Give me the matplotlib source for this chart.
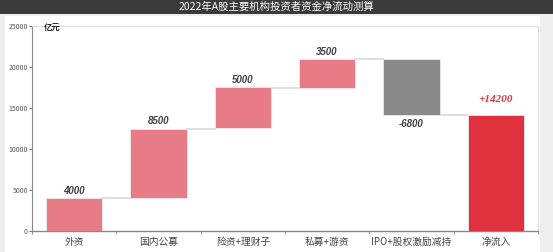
import numpy as np
import matplotlib.pyplot as plt
from matplotlib.patches import Rectangle

plt.rcParams['font.family'] = ['Noto Sans CJK SC', 'DejaVu Sans']

# -- data --
title = '2022年A股主要机构投资者资金净流动测算'
categories = ['外资', '国内公募', '险资+理财子', '私募+游资', 'IPO+股权激励减持', '净流入']
changes = [4000, 8500, 5000, 3500, -6800]
net_total = 14200
value_labels = ['4000', '8500', '5000', '3500', '-6800', '+14200']

pink = '#e87c86'
grey_bar = '#8a8a8a'
red = '#e0313e'

fig = plt.figure(figsize=(5.53, 2.52), dpi=100)
fig.patch.set_facecolor('#eeeeee')

# white panel and dark title strip
fig.add_artist(Rectangle((5/553, 0), 535/553, 1 - 16/252, transform=fig.transFigure,
                         facecolor='white', edgecolor='none', zorder=0))
fig.add_artist(Rectangle((0, 1 - 14/252), 1, 14/252, transform=fig.transFigure,
                         facecolor='#3a3a3a', edgecolor='none', zorder=0))
fig.text(0.5, 1 - 7/252, title, color='white', fontsize=7.5,
         ha='center', va='center')

ax = fig.add_axes([32/553, 1 - 231/252, 506/553, 205/252])
ax.set_facecolor('white')

x = np.arange(len(categories))
w = 0.67
cum = np.cumsum(changes)
starts = np.concatenate([[0], cum[:-1]])

for i, (s, c) in enumerate(zip(starts, changes)):
    col = pink if c > 0 else grey_bar
    ax.bar(x[i], c, bottom=s, width=w, color=col, edgecolor='#eaeaea', linewidth=0.6, zorder=3)
ax.bar(x[-1], net_total, width=w, color=red, edgecolor='#eaeaea', linewidth=0.6, zorder=3)

# connectors
levels = list(cum)
for i in range(len(categories) - 1):
    ax.plot([x[i] + w/2, x[i+1] - w/2], [levels[i], levels[i]],
            color='#d9d9d9', lw=1.2, zorder=2)

# value labels
num_font = ['Liberation Sans']
for i, c in enumerate(changes):
    if c > 0:
        ax.text(x[i], cum[i] + 250, value_labels[i], ha='center', va='bottom',
                fontsize=7, fontweight='bold', style='italic', color='#404040',
                family=num_font)
    else:
        ax.text(x[i], cum[i] - 500, value_labels[i], ha='center', va='top',
                fontsize=7, fontweight='bold', style='italic', color='#404040',
                family=num_font)
ax.text(x[-1], net_total + 1300, value_labels[-1], ha='center', va='bottom',
        fontsize=8, fontweight='bold', style='italic', color=red,
        family=['Liberation Serif'])

ax.text(-0.26, 25300, '亿元', ha='center', va='top', fontsize=6, fontweight='bold',
        color='#222222')

ax.set_xlim(-0.5, len(categories) - 0.5)
ax.set_ylim(0, 25000)
ax.set_yticks(np.arange(0, 25001, 5000))
ax.tick_params(axis='y', labelsize=5, colors='#555555', length=2, width=0.6, pad=1)
ax.set_xticks(x)
ax.set_xticklabels(categories, fontsize=7, color='#444444')
ax.set_xticks(np.arange(-0.5, len(categories)), minor=True)
ax.tick_params(axis='x', which='major', length=0, pad=4)
ax.tick_params(axis='x', which='minor', length=2, width=0.6, color='#777777')

for side in ['top', 'right']:
    ax.spines[side].set_color('#dcdcdc')
    ax.spines[side].set_linewidth(0.8)
ax.spines['left'].set_color('#888888')
ax.spines['bottom'].set_color('#888888')
ax.spines['left'].set_linewidth(0.8)
ax.spines['bottom'].set_linewidth(1.0)

fig.savefig('out.png', dpi=100, facecolor=fig.get_facecolor())
